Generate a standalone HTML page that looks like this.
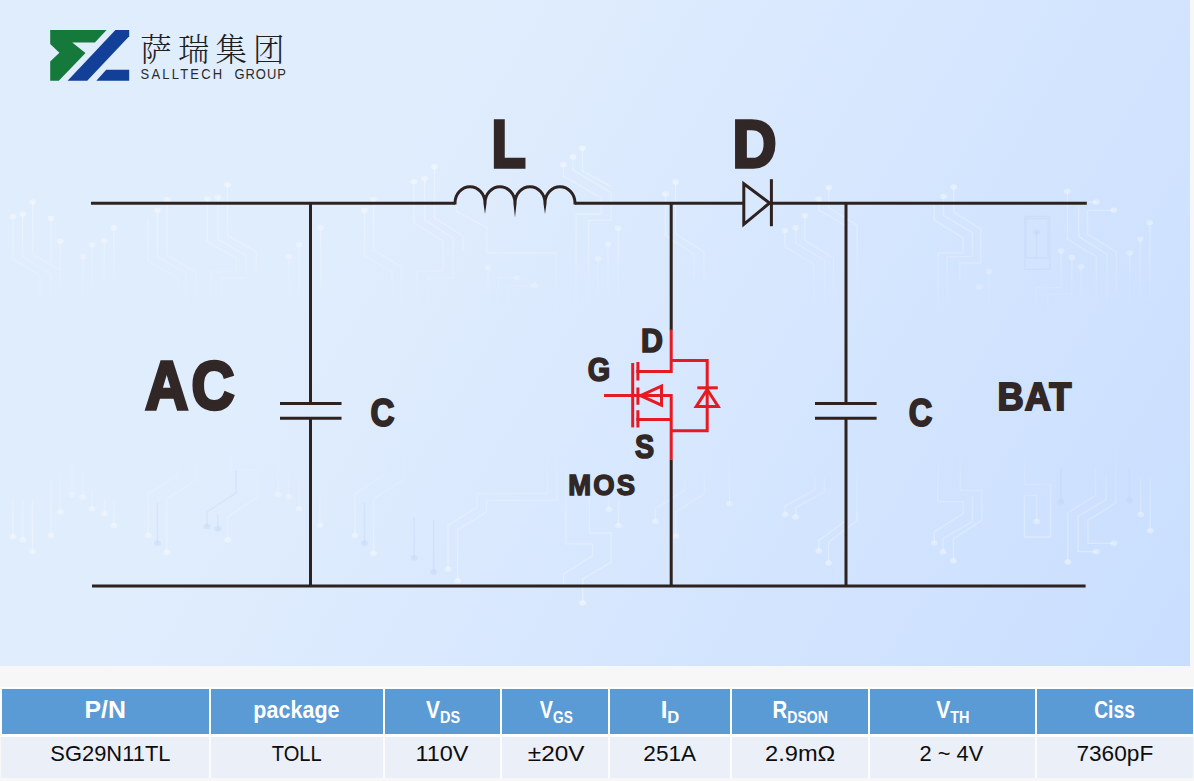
<!DOCTYPE html>
<html lang="zh-CN">
<head>
<meta charset="utf-8">
<title>SG29N11TL - SALLTECH GROUP</title>
<style>
  html, body { margin: 0; padding: 0; }
  body {
    width: 1194px; height: 781px; overflow: hidden; position: relative;
    background: #f7f7f7;
    font-family: "Liberation Sans", "Noto Sans CJK SC", sans-serif;
  }
  .panel {
    position: absolute; left: 0; top: 0; width: 1190px; height: 665.5px;
    background: linear-gradient(121deg, #e0edfd 0%, #e0edfd 31%, #c9deff 100%);
    overflow: hidden;
  }
  .panel svg { position: absolute; left: 0; top: 0; }
  .lbl { font-family: "Liberation Sans", "Noto Sans CJK SC", sans-serif; font-weight: 700; fill: #312726; stroke: #312726; stroke-width: 5; stroke-linejoin: miter; stroke-miterlimit: 3; }
  .cn  { font-family: "Liberation Serif", "Noto Serif CJK SC", serif; font-weight: 300; fill: #1f1f1f; }
  .en  { font-family: "Liberation Sans", "Noto Sans CJK SC", sans-serif; font-weight: 400; fill: #2a2a2a; }
  .wire { fill: none; stroke: #2d2220; stroke-width: 3; }
  .red  { fill: none; stroke: #e61a23; stroke-width: 3; }

  .spec {
    position: absolute; left: 0; top: 687px; width: 1194px; height: 94px;
  }
  .spec .band { position: absolute; left: 0; top: -0.4px; width: 1194px; height: 50.2px; background: #ffffff; }
  .spec .band2 { position: absolute; left: 1px; top: 49.8px; width: 1192px; height: 40.8px; background: #fcfcfd; }
  .c { position: absolute; }
  .c.h { top: 2.1px; height: 44.6px; background: #5b9bd5; }
  .c.d { top: 49.9px; height: 40.7px; background: #ebeff8; }
  .t { position: absolute; left: 0; top: 0; transform-origin: 0 0; font-size: 100px; line-height: 1; white-space: nowrap; color: #0d0d0d; }
  .t.hb { font-weight: 700; color: #fff; }
  .t sub { font-size: 69%; vertical-align: baseline; position: relative; top: 0.365em; line-height: 0; }
</style>
</head>
<body>
<div class="panel">
<svg width="1190" height="666" viewBox="0 0 1190 666">
  <!-- faint circuit-trace backdrop -->
  <defs>
    <linearGradient id="tg" gradientUnits="userSpaceOnUse" x1="0" y1="145" x2="0" y2="318">
      <stop offset="0" stop-color="#fff" stop-opacity="0.34"/><stop offset="0.55" stop-color="#fff" stop-opacity="0.26"/><stop offset="1" stop-color="#fff" stop-opacity="0"/>
    </linearGradient>
    <linearGradient id="tgd" gradientUnits="userSpaceOnUse" x1="0" y1="145" x2="0" y2="318">
      <stop offset="0" stop-color="#fff" stop-opacity="0.42"/><stop offset="0.6" stop-color="#fff" stop-opacity="0.3"/><stop offset="1" stop-color="#fff" stop-opacity="0.1"/>
    </linearGradient>
    <linearGradient id="bg" gradientUnits="userSpaceOnUse" x1="0" y1="445" x2="0" y2="600">
      <stop offset="0" stop-color="#fff" stop-opacity="0"/><stop offset="0.45" stop-color="#fff" stop-opacity="0.26"/><stop offset="1" stop-color="#fff" stop-opacity="0.34"/>
    </linearGradient>
    <linearGradient id="bgd" gradientUnits="userSpaceOnUse" x1="0" y1="445" x2="0" y2="600">
      <stop offset="0" stop-color="#fff" stop-opacity="0.1"/><stop offset="0.4" stop-color="#fff" stop-opacity="0.3"/><stop offset="1" stop-color="#fff" stop-opacity="0.42"/>
    </linearGradient>
  </defs>
  <g fill="none" stroke="url(#tg)" stroke-width="1.3" stroke-linejoin="round">
    <path d="M13,216.5 V259 L40.2,275.6 V311 M22.6,214 V256.7 L51,274.3 V315 M32.7,202 V254.2 L60.3,270.5 M51,218.3 V263 M60.3,241.2 V311 M82.9,256.7 V297 M92.2,244.7 V290.6 M104.3,240.4 V280.6 M113.8,227.8 V278 M148.2,217.8 V261.8 L178.4,278 V313 M157.5,210.3 V256.7 L186,273 V313 M167,199.7 V255.5 L196,271.8 V313 M207.3,199 V241.7 L236.2,258 V271.8 H211 V313 M218,197.2 V239.1 L246.2,255.5 V278 H221 V313 M227.6,184.6 V235.4 L256.3,251.7 V273 M288.8,256.5 V300 M299.2,244.8 V296 M320.6,227.7 V290 M364.5,210.3 V255.5 L392,272.3 V300 M373.5,199.6 V250 L401,266.5 V300 M413.9,181 V222.8 L442.8,241 V271 H417 V315 M424.7,179 V220 L453,238 V278 H428 V315 M434.5,167 V218 L463,236 V250 M456.6,205 V211.5 L486.8,227.8 V253 H555.9 V310 M563.4,164.5 V176.3 L601.1,197.7 V214 H576 V313 M573.1,156.9 V170 L611.2,192.7 V220.3 H588.5 V313 M582.5,148.1 V171.3 L611,186.4 M618.2,228.3 V300 M608,244 V300 M598,258.5 V300 M488,267.5 V313 M517,277.6 H498 V313 M534.5,285.6 H508 V313 M665.5,194 V235.4 L694,254.2 V278 M675.6,182 V234 L704,251.7 V283 M784.9,230.4 V246.7 L813.8,264.3 V310 M795.7,227.8 V243 L824.6,260.5 V310 M805,215.8 V240.4 L833.4,258 V310 M818.8,199 V210 L847,226.6 M828.8,187.6 V207.7 L857.2,225.3 V295 M934.2,205.2 V220.3 L963.1,237.9 V253 H938 V313 M943.5,196.4 V215.3 L972.4,232.9 V256.7 H947.3 V313 M953.6,187 V212 L980.7,229 V263 H959.8 V280.6 M989,271.8 V313 M979.4,286.9 V313 M1061.1,251 V287.6 H1036 V311 M1071.9,257.5 V294.4 H1047.8 V313 M1081.2,266.8 V298 M1067.4,191.4 V239.1 L1096.3,256.7 V305.7 M1078.7,205.2 V236.6 L1107,254.2 V313 M1096.3,202 H1088 M1113.9,210.3 H1087.5 V234.1 L1116.4,251.7 V290.7 M1149.8,222.8 V300 M1140.2,239.1 V295 M1129.7,253 V303"/>
  </g>
  <g fill="url(#tgd)">
    <ellipse cx="13" cy="216.5" rx="3.4" ry="2.7"/><ellipse cx="22.6" cy="214" rx="3.4" ry="2.7"/><ellipse cx="32.7" cy="202" rx="3.4" ry="2.7"/><ellipse cx="51" cy="218.3" rx="3.4" ry="2.7"/><ellipse cx="60.3" cy="241.2" rx="3.4" ry="2.7"/><ellipse cx="82.9" cy="256.7" rx="3.4" ry="2.7"/><ellipse cx="92.2" cy="244.7" rx="3.4" ry="2.7"/><ellipse cx="104.3" cy="240.4" rx="3.4" ry="2.7"/><ellipse cx="113.8" cy="227.8" rx="3.4" ry="2.7"/><ellipse cx="157.5" cy="210.3" rx="3.4" ry="2.7"/><ellipse cx="167" cy="199.7" rx="3.4" ry="2.7"/><ellipse cx="207.3" cy="199" rx="3.4" ry="2.7"/><ellipse cx="218" cy="197.2" rx="3.4" ry="2.7"/><ellipse cx="227.6" cy="184.6" rx="3.4" ry="2.7"/><ellipse cx="288.8" cy="256.5" rx="3.4" ry="2.7"/><ellipse cx="299.2" cy="244.8" rx="3.4" ry="2.7"/><ellipse cx="320.6" cy="227.7" rx="3.4" ry="2.7"/><ellipse cx="364.5" cy="210.3" rx="3.4" ry="2.7"/><ellipse cx="373.5" cy="199.6" rx="3.4" ry="2.7"/><ellipse cx="413.9" cy="181.4" rx="3.4" ry="2.7"/><ellipse cx="424.7" cy="178.8" rx="3.4" ry="2.7"/><ellipse cx="434.5" cy="166.8" rx="3.4" ry="2.7"/><ellipse cx="563.4" cy="164.5" rx="3.4" ry="2.7"/><ellipse cx="573.1" cy="156.9" rx="3.4" ry="2.7"/><ellipse cx="582.5" cy="148.1" rx="3.4" ry="2.7"/><ellipse cx="618.2" cy="228.3" rx="3.4" ry="2.7"/><ellipse cx="608" cy="244" rx="3.4" ry="2.7"/><ellipse cx="598" cy="258.5" rx="3.4" ry="2.7"/><ellipse cx="488" cy="267.5" rx="3.4" ry="2.7"/><ellipse cx="517" cy="277.6" rx="3.4" ry="2.7"/><ellipse cx="534.5" cy="285.6" rx="3.4" ry="2.7"/><ellipse cx="665.5" cy="194" rx="3.4" ry="2.7"/><ellipse cx="675.6" cy="182" rx="3.4" ry="2.7"/><ellipse cx="784.9" cy="230.4" rx="3.4" ry="2.7"/><ellipse cx="795.7" cy="227.8" rx="3.4" ry="2.7"/><ellipse cx="805" cy="215.8" rx="3.4" ry="2.7"/><ellipse cx="818.8" cy="199" rx="3.4" ry="2.7"/><ellipse cx="828.8" cy="187.6" rx="3.4" ry="2.7"/><ellipse cx="943.5" cy="196.4" rx="3.4" ry="2.7"/><ellipse cx="953.6" cy="187" rx="3.4" ry="2.7"/><ellipse cx="989" cy="271.8" rx="3.4" ry="2.7"/><ellipse cx="979.4" cy="286.9" rx="3.4" ry="2.7"/><ellipse cx="1061.1" cy="251" rx="3.4" ry="2.7"/><ellipse cx="1071.9" cy="257.5" rx="3.4" ry="2.7"/><ellipse cx="1081.2" cy="266.8" rx="3.4" ry="2.7"/><ellipse cx="1067.4" cy="191.4" rx="3.4" ry="2.7"/><ellipse cx="1096.3" cy="202" rx="3.4" ry="2.7"/><ellipse cx="1113.9" cy="210.3" rx="3.4" ry="2.7"/><ellipse cx="1149.8" cy="222.8" rx="3.4" ry="2.7"/><ellipse cx="1140.2" cy="239.1" rx="3.4" ry="2.7"/><ellipse cx="1129.7" cy="253" rx="3.4" ry="2.7"/>
  </g>
  <g fill="none" stroke="url(#bg)" stroke-width="1.3" stroke-linejoin="round">
    <path d="M12.7,536.5 V500 M22.8,539.8 V500 M32.5,551.6 V500 M51,535.5 V480 M60.3,512 V470 M72,494.6 V455 M82.7,497 V470 M92,508.7 V490 M104.5,513.7 V498 M114,525.4 V500 M148.4,535.5 V493.6 L177.6,475.2 V440 M166.8,552.2 V498.6 L196,480.2 V440 M227.8,539.8 V517 L257,497 V470 H231 V440 M278,494.6 V455 M288.8,497 V470 M299.2,508.7 V480 M320,525.4 V495 M355,535.5 V493.6 L384,475.2 V440 M373.5,553.2 V498.6 L403.5,480 V440 M448,569 V525.4 L477.2,507 V493.6 H547.5 V440 M457.7,580.7 V529.8 L486.5,512 V500.3 H556.9 V440 M566,470 V543.9 H592.7 V555.6 L563.6,574 V586 M589.4,493 V533 H611.2 V562.3 L582.7,579 V603 M608.8,473 V509.3 M618.5,500 V525.4 M655.4,521.4 V508.7 L684.9,490 V480 M675.8,536 V512 L704.3,493.6 V470 M729.4,440 V503.7 M785.2,514.5 V505.9 L814.7,490.3 V474.7 M795.6,517 V507.6 L824.4,492 V478 M818.8,551 V540.6 L845.9,520.4 M828.5,563 V542.3 L857,520.4 V454 M934.3,543 V531.9 L963,513.5 V501.7 H937.8 V454 M953.4,560.7 V538.8 L981.8,520.4 V490.3 H960.3 V440 M943,551.7 V538.8 L972.4,521.5 V495.5 M1024.4,440 V484.4 H1050.5 V537 H1024.4 V495.5 H1036.6 V521.5 M1067.8,562 V512.8 L1095.5,495.5 V467.7 M1096.2,551.7 H1078.2 V516.3 L1106,499.6 V474.7 M1113.9,543.3 H1087.9 V520.4 L1115.6,503 V440 M1140.6,478 V514.5 M1150.3,478 V530.8"/>
  </g>
  <g fill="url(#bgd)">
    <ellipse cx="12.7" cy="536.5" rx="3.4" ry="2.7"/><ellipse cx="22.8" cy="539.8" rx="3.4" ry="2.7"/><ellipse cx="32.5" cy="551.6" rx="3.4" ry="2.7"/><ellipse cx="51" cy="535.5" rx="3.4" ry="2.7"/><ellipse cx="60.3" cy="512" rx="3.4" ry="2.7"/><ellipse cx="72" cy="494.6" rx="3.4" ry="2.7"/><ellipse cx="82.7" cy="497" rx="3.4" ry="2.7"/><ellipse cx="92" cy="508.7" rx="3.4" ry="2.7"/><ellipse cx="104.5" cy="513.7" rx="3.4" ry="2.7"/><ellipse cx="114" cy="525.4" rx="3.4" ry="2.7"/><ellipse cx="148.4" cy="535.5" rx="3.4" ry="2.7"/><ellipse cx="166.8" cy="552.2" rx="3.4" ry="2.7"/><ellipse cx="227.8" cy="539.8" rx="3.4" ry="2.7"/><ellipse cx="278" cy="494.6" rx="3.4" ry="2.7"/><ellipse cx="288.8" cy="497" rx="3.4" ry="2.7"/><ellipse cx="299.2" cy="508.7" rx="3.4" ry="2.7"/><ellipse cx="320" cy="525.4" rx="3.4" ry="2.7"/><ellipse cx="355" cy="535.5" rx="3.4" ry="2.7"/><ellipse cx="373.5" cy="553.2" rx="3.4" ry="2.7"/><ellipse cx="448" cy="569" rx="3.4" ry="2.7"/><ellipse cx="457.7" cy="580.7" rx="3.4" ry="2.7"/><ellipse cx="582.7" cy="603" rx="3.4" ry="2.7"/><ellipse cx="608.8" cy="509.3" rx="3.4" ry="2.7"/><ellipse cx="618.5" cy="525.4" rx="3.4" ry="2.7"/><ellipse cx="655.4" cy="521.4" rx="3.4" ry="2.7"/><ellipse cx="675.8" cy="536" rx="3.4" ry="2.7"/><ellipse cx="729.4" cy="503.7" rx="3.4" ry="2.7"/><ellipse cx="785.2" cy="514.5" rx="3.4" ry="2.7"/><ellipse cx="795.6" cy="517" rx="3.4" ry="2.7"/><ellipse cx="818.8" cy="551" rx="3.4" ry="2.7"/><ellipse cx="828.5" cy="563" rx="3.4" ry="2.7"/><ellipse cx="934.3" cy="543" rx="3.4" ry="2.7"/><ellipse cx="953.4" cy="560.7" rx="3.4" ry="2.7"/><ellipse cx="943" cy="551.7" rx="3.4" ry="2.7"/><ellipse cx="1036.6" cy="521.5" rx="3.4" ry="2.7"/><ellipse cx="1067.8" cy="562" rx="3.4" ry="2.7"/><ellipse cx="1096.2" cy="551.7" rx="3.4" ry="2.7"/><ellipse cx="1113.9" cy="543.3" rx="3.4" ry="2.7"/><ellipse cx="1140.6" cy="514.5" rx="3.4" ry="2.7"/><ellipse cx="1150.3" cy="530.8" rx="3.4" ry="2.7"/>
  </g>
  <g fill="none" stroke="#bcd2f6" stroke-opacity="0.3" stroke-width="1.3">
    <path d="M1024.7,216.5 H1049.8 V269.3 H1024.7 Z M1026.2,218.5 H1048.2 V258 H1026.2 Z M1036.6,232 V257 M1060.9,468 V502 M1129.5,468 V500.5 M414.2,558 V517 M433.6,572 V520 M157.5,543.2 V503 M364.5,543.2 V503 M217.8,528.8 V514 M207,526.4 V512 L236,493 V470"/>
  </g>
  <g fill="#bcd2f6" fill-opacity="0.35">
    <ellipse cx="1036.6" cy="232" rx="3.4" ry="2.7"/><ellipse cx="1060.9" cy="502" rx="3.4" ry="2.7"/><ellipse cx="1129.5" cy="500.5" rx="3.4" ry="2.7"/><ellipse cx="414.2" cy="558" rx="3.4" ry="2.7"/><ellipse cx="433.6" cy="572" rx="3.4" ry="2.7"/><ellipse cx="157.5" cy="543.2" rx="3.4" ry="2.7"/><ellipse cx="364.5" cy="543.2" rx="3.4" ry="2.7"/><ellipse cx="217.8" cy="528.8" rx="3.4" ry="2.7"/><ellipse cx="207" cy="526.4" rx="3.4" ry="2.7"/>
  </g>
  <!-- logo mark -->
  <polygon fill="#14793a" points="50.2,29.9 106.6,29.9 94.9,42.4 72.2,42.4 85.5,53.1 58.8,80.7 50.2,80.7 50.2,61.5 59.4,52.7 50.2,43.9"/>
  <polygon fill="#123f97" points="115.4,29.9 129.2,29.9 129.2,36.3 87.2,80.7 67.6,80.7"/>
  <polygon fill="#123f97" points="106.2,69.8 129.2,69.8 129.2,80.7 96.3,80.7"/>
  <text class="cn" x="140.3" y="60.5" font-size="31.4" letter-spacing="6.2">萨瑞集团</text>
  <text class="en" transform="translate(140.6 78.6) scale(0.86 1)" font-size="15.1"><tspan letter-spacing="2.55">SALLTECH </tspan><tspan x="109.2" letter-spacing="1.1">GROUP</tspan></text>

  <!-- wires -->
  <path class="wire" d="M91,203.2 H455"/>
  <path class="wire" d="M575,203.2 H743"/>
  <path class="wire" d="M771,203.2 H1086.8"/>
  <path class="wire" d="M92,586 H1085.6"/>
  <path class="wire" d="M310.5,203 V403.6 M310.5,418.3 V586"/>
  <path class="wire" d="M846,203 V403.6 M846,418.3 V586"/>
  <path class="wire" d="M671.2,203 V330 M671.2,459.5 V586"/>
  <!-- capacitors -->
  <path class="wire" d="M280,403.6 H341.5 M280,418.3 H341.5"/>
  <path class="wire" d="M815,403.6 H876.6 M815,418.3 H876.6"/>
  <!-- inductor -->
  <path class="wire" stroke-linejoin="miter" stroke-miterlimit="10" d="M455,204.6 V203 A15,16.2 0 0 1 485,203 A15,16.2 0 0 1 515,203 A15,16.2 0 0 1 545,203 A15,16.2 0 0 1 575,203 V204.6"/>
  <path fill="#2d2220" d="M483.4,203 L485,214 L486.6,203 Z M513.4,203 L515,217.5 L516.6,203 Z M543.4,203 L545,214 L546.6,203 Z"/>
  <!-- diode -->
  <path class="wire" stroke-linejoin="miter" stroke-miterlimit="10" d="M743.8,183.8 L769.6,203 L743.8,224.4 Z"/>
  <path class="wire" d="M771.4,179.2 V226.2"/>

  <!-- MOSFET -->
  <path class="red" d="M671.2,329.4 V371.4 H636.3"/>
  <path class="red" d="M671.2,360.4 H707.2 V430.8 H671.2"/>
  <path class="red" d="M636.3,419.6 H671.2"/>
  <path class="red" stroke-linejoin="miter" d="M604,395.6 H671.2 V459.8"/>
  <path class="red" d="M632.7,363 V427.4"/>
  <path class="red" d="M637.9,362 V380.5 M637.9,387.4 V404.8 M637.9,410.2 V427.6"/>
  <path class="red" stroke-linejoin="miter" stroke-miterlimit="10" d="M640.6,395.7 L661.5,386.2 V405.2 Z"/>
  <path class="red" d="M697.3,387.8 H717.8"/>
  <path class="red" stroke-linejoin="miter" stroke-miterlimit="10" d="M707.2,389.5 L718.2,406.5 H696.2 Z"/>

  <!-- labels -->
  <text class="lbl" transform="matrix(0.5944 0 0 0.6806 145.13 409.44)" font-size="100" letter-spacing="6">AC</text>
  <text class="lbl" transform="matrix(0.5613 0 0 0.6718 491.54 167.13)" font-size="100">L</text>
  <text class="lbl" transform="matrix(0.6096 0 0 0.6745 732.53 167.12)" font-size="100">D</text>
  <text class="lbl" transform="matrix(0.3318 0 0 0.3963 370.46 425.83)" font-size="100">C</text>
  <text class="lbl" transform="matrix(0.3262 0 0 0.3963 908.77 425.83)" font-size="100">C</text>
  <text class="lbl" transform="matrix(0.3626 0 0 0.3853 997.47 409.94)" font-size="100" letter-spacing="3">BAT</text>
  <text class="lbl" transform="matrix(0.3033 0 0 0.3271 641.02 352.39)" font-size="100">D</text>
  <text class="lbl" transform="matrix(0.2885 0 0 0.3343 587.83 381.23)" font-size="100">G</text>
  <text class="lbl" transform="matrix(0.2864 0 0 0.3357 635.01 458.23)" font-size="100">S</text>
  <text class="lbl" transform="matrix(0.2743 0 0 0.3001 568.15 495.15)" font-size="100" letter-spacing="8">MOS</text>
</svg>
</div>

<div class="spec">
  <div class="band"></div>
  <div class="band2"></div>
  <div class="c h" style="left:1.6px;width:207.6px"></div>
  <div class="c h" style="left:211.2px;width:171.6px"></div>
  <div class="c h" style="left:384.8px;width:115.6px"></div>
  <div class="c h" style="left:502.4px;width:105.4px"></div>
  <div class="c h" style="left:609.8px;width:120.4px"></div>
  <div class="c h" style="left:732.2px;width:136.1px"></div>
  <div class="c h" style="left:870.3px;width:164.4px"></div>
  <div class="c h" style="left:1036.7px;width:156.3px"></div>
  <div class="c d" style="left:1px;width:208.2px"></div>
  <div class="c d" style="left:211.2px;width:171.6px"></div>
  <div class="c d" style="left:384.8px;width:115.6px"></div>
  <div class="c d" style="left:502.4px;width:105.4px"></div>
  <div class="c d" style="left:609.8px;width:120.4px"></div>
  <div class="c d" style="left:732.2px;width:136.1px"></div>
  <div class="c d" style="left:870.3px;width:164.4px"></div>
  <div class="c d" style="left:1036.7px;width:156.3px"></div>
  <div class="t hb" style="transform:matrix(0.2479,0,0,0.2304,84.54,11.11)">P/N</div>
  <div class="t hb" style="transform:matrix(0.2153,0,0,0.2304,253.36,11.11)">package</div>
  <div class="t hb" style="transform:matrix(0.2089,0,0,0.2304,426.12,11.11)">V<sub>DS</sub></div>
  <div class="t hb" style="transform:matrix(0.1986,0,0,0.2304,539.73,11.11)">V<sub>GS</sub></div>
  <div class="t hb" style="transform:matrix(0.2399,0,0,0.2304,660.70,11.11)">I<sub>D</sub></div>
  <div class="t hb" style="transform:matrix(0.2037,0,0,0.2304,772.54,11.11)">R<sub>DSON</sub></div>
  <div class="t hb" style="transform:matrix(0.2097,0,0,0.2304,936.22,11.11)">V<sub>TH</sub></div>
  <div class="t hb" style="transform:matrix(0.1928,0,0,0.2304,1094.20,11.11)">Ciss</div>
  <div class="t" style="transform:matrix(0.2190,0,0,0.2290,50.35,54.54)">SG29N11TL</div>
  <div class="t" style="transform:matrix(0.2014,0,0,0.2290,271.74,54.54)">TOLL</div>
  <div class="t" style="transform:matrix(0.2340,0,0,0.2290,415.51,54.54)">110V</div>
  <div class="t" style="transform:matrix(0.2434,0,0,0.2290,527.82,54.54)">±20V</div>
  <div class="t" style="transform:matrix(0.2259,0,0,0.2290,643.36,54.54)">251A</div>
  <div class="t" style="transform:matrix(0.2361,0,0,0.2290,765.11,54.54)">2.9mΩ</div>
  <div class="t" style="transform:matrix(0.2180,0,0,0.2290,919.60,54.54)">2 ~ 4V</div>
  <div class="t" style="transform:matrix(0.2264,0,0,0.2290,1076.44,54.54)">7360pF</div>
</div>
</body>
</html>
